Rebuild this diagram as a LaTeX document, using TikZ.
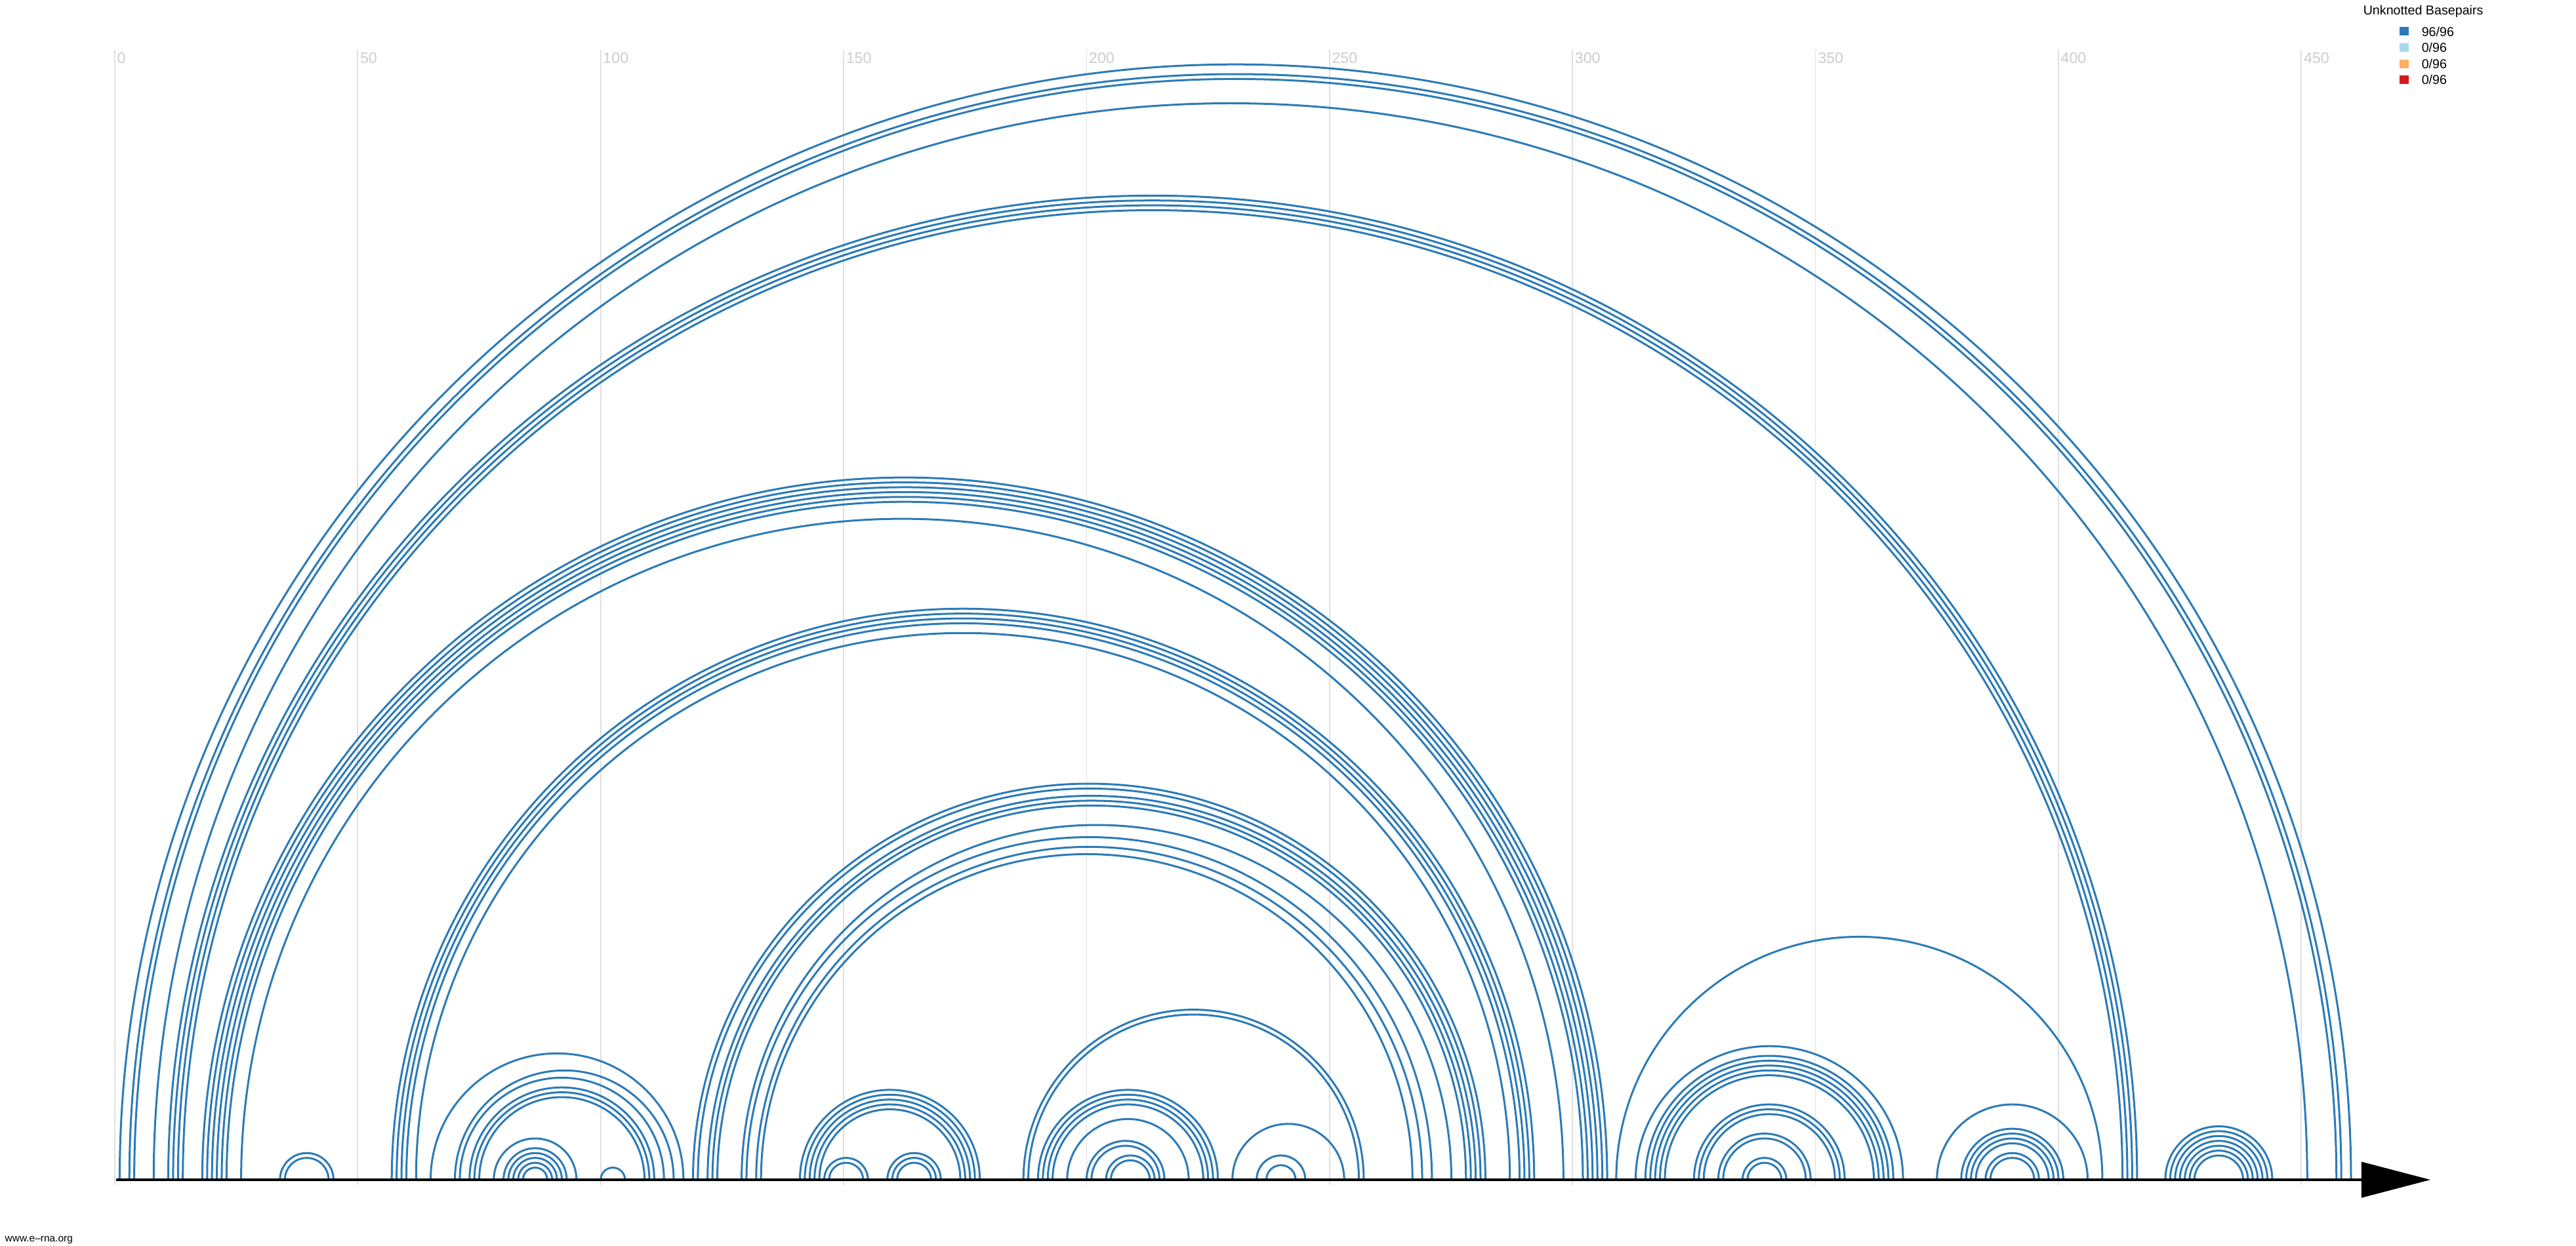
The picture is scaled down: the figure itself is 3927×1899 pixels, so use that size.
\documentclass[tikz,border=0pt]{standalone}
\usepackage{fontspec}
\setmainfont{Liberation Sans}
\usetikzlibrary{arrows.meta}
\definecolor{pairblue}{HTML}{2C7BB6}
\definecolor{pairlight}{HTML}{ABD9E9}
\definecolor{pairorange}{HTML}{FDAE61}
\definecolor{pairred}{HTML}{D7191C}
\definecolor{gridgray}{RGB}{224,224,224}
\definecolor{ticktext}{RGB}{204,204,204}

\begin{document}
\begin{tikzpicture}[x=0.01cm, y=0.01cm,
  basepair/.style={draw=pairblue, line width=0.03cm},
  gridline/.style={draw=gridgray, line width=0.018cm},
  ticklabel/.style={text=ticktext, font=\fontsize{6.6}{7}\selectfont,
                    inner sep=0pt, anchor=north west},
  legendtext/.style={font=\fontsize{5.6}{6}\selectfont, inner sep=0pt},
  legendkey/.style={minimum width=0.14cm, minimum height=0.13cm, inner sep=0pt}]
  \useasboundingbox (0,0) rectangle (3927,1899);

  % grid every 50 nt
  \foreach \t in {0,50,...,450}{
    \draw[gridline] ({175+7.4073*\t},92) -- ({175+7.4073*\t},1823);
    \node[ticklabel] (tick\t) at ({178+7.4073*\t},1819) {\t};
  }

  % base pairs i/j
  \foreach \i/\j in {1/460, 3/458, 4/457, 8/451,
                     11/416, 12/415, 13/414, 14/413,
                     18/307, 19/306, 20/305, 21/304, 22/303, 23/302, 26/298,
                     34/45, 35/44,
                     57/292, 58/291, 59/290, 60/289, 62/287,
                     65/117, 70/115, 71/113, 73/111, 74/110, 75/109,
                     78/95, 80/93, 81/92, 82/91, 83/90, 84/89,
                     100/105,
                     119/282, 120/281, 122/280, 123/279, 124/278,
                     129/275, 130/271, 132/269, 133/267,
                     141/178, 142/177, 143/176, 144/175, 145/174,
                     146/155, 147/154,
                     159/170, 160/169, 161/168,
                     187/257, 188/256,
                     190/227, 191/226, 192/225, 193/224,
                     196/221, 200/216, 201/215, 204/214, 205/213,
                     230/253, 235/245, 237/243,
                     309/409,
                     313/368, 315/366, 316/365, 317/364, 318/363, 319/362,
                     325/356, 326/355, 327/354,
                     330/349, 331/348, 335/344, 336/343,
                     375/406,
                     380/401, 381/400, 382/399, 383/398,
                     385/396, 386/395,
                     422/444, 423/443, 424/442, 425/441, 426/440, 427/439, 428/438}{
    \draw[basepair] ({175+7.4073*\i},100)
      arc[start angle=180, end angle=0, radius={(\j-\i)*0.0370365cm}];
  }

  % backbone
  \draw[line width=0.034cm, -{Triangle[length=1.05cm, width=0.54cm]}]
    (177,100) -- (3705,100);

  % legend
  \node[legendtext, anchor=base west] (legtitle) at (3602,1876) {Unknotted Basepairs};
  \foreach \c/\n [count=\k from 0] in {pairblue/96, pairlight/0, pairorange/0, pairred/0}{
    \node[legendkey, fill=\c] (key\k) at (3665,{1851-24.6*\k}) {};
    \node[legendtext, anchor=west] (keytext\k) at (3691,{1851-24.6*\k}) {\n/96};
  }

  \node[font=\fontsize{4.4}{5}\selectfont, inner sep=0pt, anchor=base west]
    (site) at (7,6) {www.e–rna.org};
\end{tikzpicture}
\end{document}
